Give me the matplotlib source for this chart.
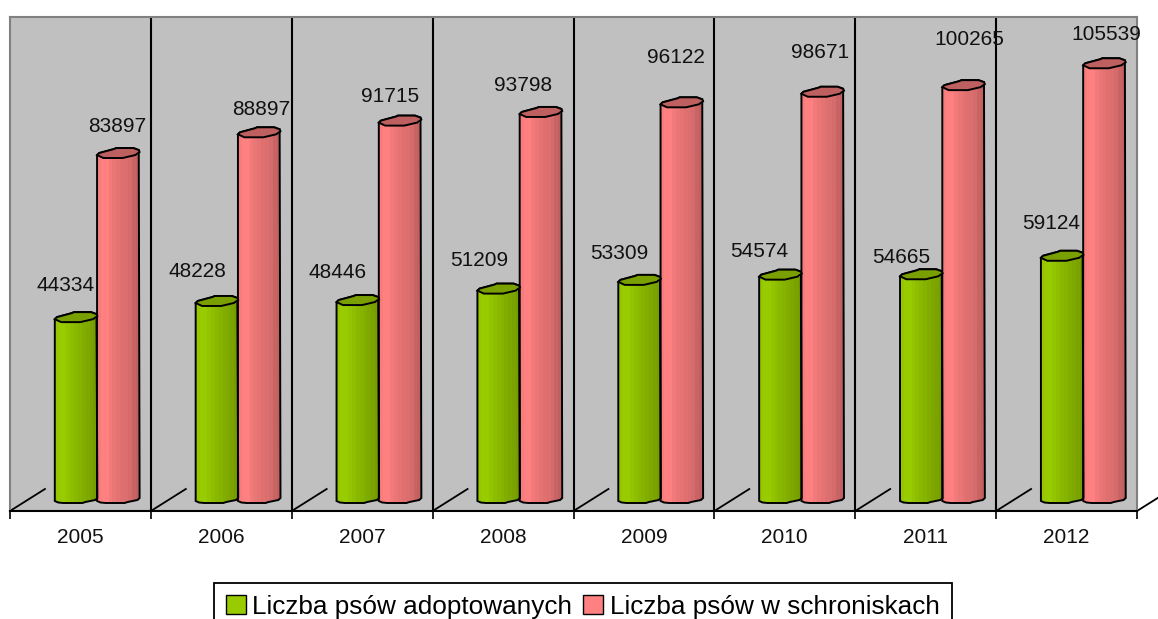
import matplotlib
matplotlib.use("Agg")
import matplotlib.pyplot as plt
from matplotlib.patches import Polygon, Patch

plt.rcParams['font.family'] = ['Liberation Sans', 'DejaVu Sans']

years = ["2005", "2006", "2007", "2008", "2009", "2010", "2011", "2012"]
adopted = [44334, 48228, 48446, 51209, 53309, 54574, 54665, 59124]
sheltered = [83897, 88897, 91715, 93798, 96122, 98671, 100265, 105539]

# label offsets from top of each bar, in pixels (the original is hand placed)
adopted_dx = [-11, -20, -20, -19, -20, -21, -20, -11]
adopted_dy = [34, 31, 30, 30, 28, 25, 19, 34]
sheltered_dx = [-1, 2, -10, -18, -6, -3, 6, 2]
sheltered_dy = [29, 25, 26, 28, 47, 41, 48, 31]

green_shades = ["#95C600", "#99CC00", "#99CC00", "#93C400", "#8FBE00", "#8AB800",
                "#86B200", "#82AD00", "#7EA800", "#7AA300", "#759C00"]
red_shades = ["#F87C7C", "#FF8080", "#FF8080", "#F27A7A", "#EB7676", "#E67373",
              "#E07070", "#DB6E6E", "#D66B6B", "#C86464", "#C06060"]

PX = 241.1  # value units per pixel
BAR_W = 0.302
GREEN_X = 0.318
RED_X = 0.618

fig = plt.figure(figsize=(11.58, 6.19), dpi=100)
ax = fig.add_axes([10 / 1158, 108 / 619, 1127 / 1158, 494 / 619])
ax.set_facecolor("#C0C0C0")
ax.set_xlim(0, len(years))
ax.set_ylim(-8 * PX, 486 * PX)


def cylinder(left, value, shades, cap_color):
    # outline: (fraction of width, pixels above the reference level)
    front = [(0.15, -3), (0.6, -3), (0.7, -2), (0.9, 0), (1, 3)]
    back = [(0.98, 5), (0.85, 7), (0.45, 7), (0.4, 6), (0.05, 2), (0, 0)]
    bottom = [(0, 2), (0.08, 0.5), (0.2, 0), (0.65, 0), (0.72, 1), (0.95, 3), (1, 5)]
    to_xy = lambda pts, base: [(left + f * BAR_W, base + up * PX) for f, up in pts]
    outline = to_xy(bottom, 0) + to_xy(back, value)
    body = Polygon(outline, closed=True, facecolor="none", edgecolor="black", lw=1.4, zorder=4)
    ax.add_patch(body)
    w = BAR_W / len(shades)
    for k, c in enumerate(shades):
        b = ax.bar(left + (k + 0.5) * w, value, width=w * 1.02, color=c, lw=0, zorder=3)
        b[0].set_clip_path(body)
    cap = to_xy([(0, 0)] + front + back, value)
    ax.add_patch(Polygon(cap, closed=True, facecolor=cap_color, edgecolor="black", lw=1.4, zorder=5))


for i in range(len(years)):
    cylinder(i + GREEN_X, adopted[i], green_shades, "#7A9F00")
    cylinder(i + RED_X, sheltered[i], red_shades, "#BF6060")
    ax.annotate(str(adopted[i]), (i + GREEN_X + BAR_W / 2, adopted[i]),
                xytext=(adopted_dx[i], adopted_dy[i]), textcoords="offset pixels",
                ha="center", va="center", fontsize=15, color="#111111", zorder=6)
    ax.annotate(str(sheltered[i]), (i + RED_X + BAR_W / 2, sheltered[i]),
                xytext=(sheltered_dx[i], sheltered_dy[i]), textcoords="offset pixels",
                ha="center", va="center", fontsize=15, color="#111111", zorder=6)

# category separators and the little floor diagonals
for i in range(len(years) + 1):
    if 0 < i < len(years):
        ax.axvline(i, color="black", lw=1.5, zorder=2)
    ax.plot([i, i + 0.248], [-8 * PX, 14 * PX], color="black", lw=1.3, zorder=2, clip_on=False)

for side in ["left", "top", "right"]:
    ax.spines[side].set_color("#808080")
    ax.spines[side].set_linewidth(1.5)
ax.spines["bottom"].set_color("black")
ax.spines["bottom"].set_linewidth(1.5)

ax.set_yticks([])
ax.set_xticks(range(len(years) + 1))
ax.set_xticklabels([])
ax.tick_params(axis="x", which="major", length=5.5, width=1.2, color="black")
ax.set_xticks([i + 0.5 for i in range(len(years))], minor=True)
ax.set_xticklabels(years, minor=True, fontsize=15, color="#111111")
ax.tick_params(axis="x", which="minor", length=0, pad=12)

handles = [Patch(facecolor="#99CC00", edgecolor="black", label="Liczba psów adoptowanych"),
           Patch(facecolor="#FF8080", edgecolor="black", label="Liczba psów w schroniskach")]
leg = fig.legend(handles=handles, loc="upper left", bbox_to_anchor=(214 / 1158, 1 - 583 / 619),
                 ncol=2, fontsize=18.8, frameon=True, fancybox=False, framealpha=1,
                 edgecolor="black", borderaxespad=0, borderpad=0.46, handlelength=0.75,
                 handleheight=0.75, handletextpad=0.26, columnspacing=0.42)
leg.get_frame().set_linewidth(1.3)

fig.savefig("out.png", dpi=100)
